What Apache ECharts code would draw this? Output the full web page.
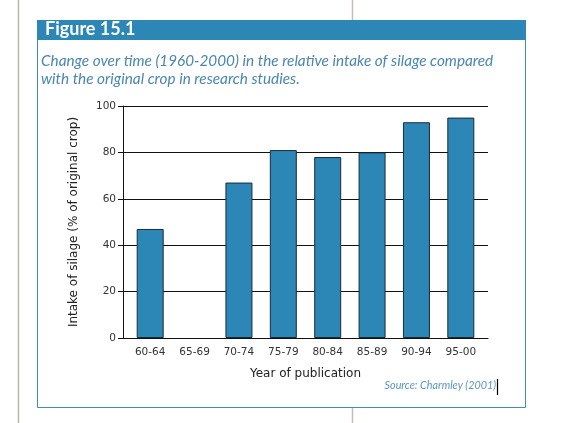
<!DOCTYPE html>
<html>
<head>
<meta charset="utf-8">
<script src="https://cdn.jsdelivr.net/npm/echarts@6/dist/echarts.min.js"></script>
<style>
html,body{margin:0;padding:0;background:#fff;}
#c{width:563px;height:423px;}
</style>
</head>
<body>
<div id="c"></div>
<script>
const categories = ['60-64','65-69','70-74','75-79','80-84','85-89','90-94','95-00'];
const intakeValues = [47, null, 67, 81, 78, 80, 93, 95];
const yTicks = [0, 20, 40, 60, 80, 100];

const chart = echarts.init(document.getElementById('c'), null, {renderer:'canvas'});
const axisFont = 'DejaVu Sans';
const blue = '#2d87b6';

chart.setOption({
  backgroundColor: '#ffffff',
  animation: false,
  graphic: [
    {type:'line', z:-20, shape:{x1:18.5,y1:0,x2:18.5,y2:423}, style:{stroke:'#b9b5ad', lineWidth:1.5}},
    {type:'line', z:-20, shape:{x1:352.5,y1:0,x2:352.5,y2:423}, style:{stroke:'#c4c0b8', lineWidth:1.5}},
    {type:'rect', z:-10, shape:{x:37.5,y:20.5,width:488,height:387}, style:{fill:'#ffffff', stroke:'#3d8fb3', lineWidth:1}},
    {type:'rect', z:-5, shape:{x:37,y:20,width:489,height:20}, style:{fill:blue}},
    {type:'text', z:10, left:45, top:20, style:{text:'Figure 15.1', fill:'#ffffff', font:'bold 18px Lato'}},
    {type:'text', z:10, left:41, top:52, style:{text:'Change over time (1960-2000) in the relative intake of silage compared\nwith the original crop in research studies.', fill:'#4a86b0', font:'italic 15.3px Lato', lineHeight:18}},
    {type:'text', z:10, right:67, top:380, style:{text:'Source: Charmley (2001)', fill:'#5a97bd', font:'italic 10.8px Lato'}},
    {type:'line', z:10, shape:{x1:497.5,y1:379,x2:497.5,y2:395}, style:{stroke:'#000', lineWidth:1.2}}
  ],
  grid: [
    {left:123, right:75, top:106, bottom:85},
    {left:128, right:80, top:106, bottom:85}
  ],
  xAxis: [
    {gridIndex:0, type:'value', min:0, max:1,
     axisLine:{show:true, lineStyle:{color:'#111', width:1}},
     axisTick:{show:false}, axisLabel:{show:false}, splitLine:{show:false}},
    {gridIndex:1, type:'category', data:categories,
     axisLine:{show:false}, axisTick:{show:false},
     axisLabel:{color:'#333', fontFamily:axisFont, fontSize:10.5, margin:9},
     name:'Year of publication', nameLocation:'middle', nameGap:30,
     nameTextStyle:{color:'#222', fontFamily:axisFont, fontSize:12}}
  ],
  yAxis: [
    {gridIndex:0, type:'value', min:yTicks[0], max:yTicks[yTicks.length-1], interval:20,
     axisLine:{show:true, lineStyle:{color:'#111', width:1}},
     axisTick:{show:true, length:5, lineStyle:{color:'#111'}},
     axisLabel:{color:'#333', fontFamily:axisFont, fontSize:10.5, margin:7},
     splitLine:{show:true, lineStyle:{color:'#111', width:1}},
     name:'Intake of silage (% of original crop)', nameLocation:'middle', nameGap:43,
     nameTextStyle:{color:'#222', fontFamily:axisFont, fontSize:12}},
    {gridIndex:1, type:'value', min:0, max:100, show:false}
  ],
  series: [{
    type:'bar', xAxisIndex:1, yAxisIndex:1,
    data:intakeValues, barWidth:27,
    itemStyle:{color:blue, borderColor:'#1a2b38', borderWidth:1}
  }]
});
</script>
</body>
</html>
